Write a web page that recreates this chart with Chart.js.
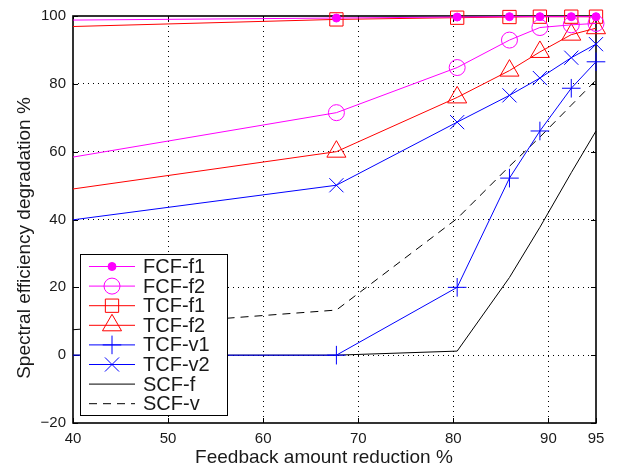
<!DOCTYPE html>
<html>
<head>
<meta charset="utf-8">
<script src="https://cdn.jsdelivr.net/npm/chart.js@4"></script>
<style>
  html, body { margin: 0; padding: 0; background: #fff; }
  #wrap { width: 623px; height: 473px; }
</style>
</head>
<body>
<div id="wrap"><canvas id="chart" width="623" height="473"></canvas></div>
<script>
// DATA
let xValues = [40, 67.7, 80.4, 85.9, 89.1, 92.4, 95];
let xTicks = [40, 50, 60, 70, 80, 90, 95];
let seriesNames = ['FCF-f1', 'FCF-f2', 'TCF-f1', 'TCF-f2', 'TCF-v1', 'TCF-v2', 'SCF-f', 'SCF-v'];
let fcfF1 = [98.8, 99.4, 99.7, 99.8, 99.8, 99.8, 99.8];
let fcfF2 = [58.4, 71.5, 84.8, 92.9, 96.6, 97.4, 97.8];
let tcfF1 = [96.9, 99.0, 99.5, 99.7, 99.8, 99.8, 99.8];
let tcfF2 = [49.0, 60.0, 76.0, 83.9, 89.4, 94.5, 96.4];
let tcfV1 = [0, 0, 20.0, 52.2, 66.1, 78.7, 86.5];
let tcfV2 = [39.9, 50.1, 68.7, 76.6, 81.7, 87.7, 91.7];
let scfF = [0, 0, 1.2, 22.9, 37.7, 53.8, 66.1];
let scfV = [7.5, 13.3, 40.3, 55.7, 64.3, 73.7, 81.1];

let seriesData = [fcfF1, fcfF2, tcfF1, tcfF2, tcfV1, tcfV2, scfF, scfV];
let seriesColor = ['#ff00ff', '#ff00ff', '#ff0000', '#ff0000', '#0000ff', '#0000ff', '#000000', '#000000'];
let seriesMarker = ['circle', 'circle', 'rect', 'triangle', 'cross', 'crossRot', false, false];
let seriesRadius = [4, 8, 9.4, 11, 9.3, 10, 0, 0];
let seriesFill = ['#ff00ff', 'rgba(0,0,0,0)', 'rgba(0,0,0,0)', 'rgba(0,0,0,0)', 'rgba(0,0,0,0)', 'rgba(0,0,0,0)', 'rgba(0,0,0,0)', 'rgba(0,0,0,0)'];
let seriesDash = [[], [], [], [], [], [], [], [8, 6]];

Chart.defaults.font.family = "'Liberation Sans', Arial, Helvetica, sans-serif";
Chart.defaults.color = '#1a1a1a';

let datasets = [];
for (let i = 0; i < seriesNames.length; i++) {
    let pts = [];
    for (let j = 0; j < xValues.length; j++) {
        pts.push({ x: xValues[j], y: seriesData[i][j] });
    }
    let r = seriesRadius[i];
    datasets.push({
        label: seriesNames[i],
        data: pts,
        borderColor: seriesColor[i],
        backgroundColor: seriesFill[i],
        borderWidth: 1,
        borderDash: seriesDash[i],
        pointStyle: seriesMarker[i],
        // first point sits on the left edge, its marker is off-plot in the original
        pointRadius: function (c) { return c.dataIndex === 0 ? 0 : r; },
        pointBorderColor: seriesColor[i],
        pointBackgroundColor: seriesFill[i],
        pointBorderWidth: 1,
        tension: 0,
        clip: false
    });
}

// frame box with inward ticks on all four sides
let framePlugin = {
    id: 'frame',
    beforeDatasetsDraw(chart) {
        let ctx = chart.ctx, a = chart.chartArea;
        let xs = chart.scales.x, ys = chart.scales.y;
        ctx.save();
        ctx.strokeStyle = '#000';
        ctx.lineWidth = 1;
        ctx.beginPath();
        xs.ticks.forEach(function (t) {
            let px = Math.round(xs.getPixelForValue(t.value)) + 0.5;
            ctx.moveTo(px, a.bottom); ctx.lineTo(px, a.bottom - 5);
            ctx.moveTo(px, a.top); ctx.lineTo(px, a.top + 5);
        });
        ys.ticks.forEach(function (t) {
            let py = Math.round(ys.getPixelForValue(t.value)) + 0.5;
            ctx.moveTo(a.left, py); ctx.lineTo(a.left + 5, py);
            ctx.moveTo(a.right, py); ctx.lineTo(a.right - 5, py);
        });
        ctx.stroke();
        ctx.lineWidth = 1.6;
        ctx.strokeRect(a.left, a.top, a.right - a.left, a.bottom - a.top);
        ctx.restore();
    }
};

// legend box inside the plot, lower left
let legendPlugin = {
    id: 'boxLegend',
    afterDraw(chart) {
        let ctx = chart.ctx;
        let bx = 80, by = 254, bw = 147, bh = 161;
        ctx.save();
        ctx.fillStyle = '#fff';
        ctx.fillRect(bx, by, bw, bh);
        ctx.strokeStyle = '#000';
        ctx.lineWidth = 1;
        ctx.strokeRect(bx + 0.5, by + 0.5, bw, bh);
        ctx.font = "20px 'Liberation Sans', Arial, sans-serif";
        ctx.textBaseline = 'middle';
        for (let i = 0; i < seriesNames.length; i++) {
            let ry = 266.5 + i * 19.6;
            ctx.strokeStyle = seriesColor[i];
            ctx.lineWidth = 1;
            ctx.setLineDash(seriesDash[i]);
            ctx.beginPath();
            ctx.moveTo(89, ry); ctx.lineTo(135, ry);
            ctx.stroke();
            ctx.setLineDash([]);
            if (seriesMarker[i]) {
                ctx.fillStyle = seriesFill[i];
                Chart.helpers.drawPoint(ctx, {
                    pointStyle: seriesMarker[i],
                    radius: seriesRadius[i],
                    rotation: 0,
                    borderWidth: 1
                }, 112, ry);
            }
            ctx.fillStyle = '#1a1a1a';
            ctx.fillText(seriesNames[i], 143, ry + 1);
        }
        ctx.restore();
    }
};

let ctx = document.getElementById('chart').getContext('2d');
let chart = new Chart(ctx, {
    type: 'line',
    data: { datasets: datasets },
    plugins: [framePlugin, legendPlugin],
    options: {
        responsive: false,
        animation: false,
        devicePixelRatio: 1,
        layout: { autoPadding: false, padding: { top: 12, right: 27, left: 0, bottom: 0 } },
        plugins: { legend: { display: false }, tooltip: { enabled: false } },
        scales: {
            x: {
                type: 'linear',
                min: 40,
                max: 95,
                afterBuildTicks: function (scale) {
                    scale.ticks = xTicks.map(function (v) { return { value: v }; });
                },
                afterFit: function (scale) { scale.height = 50; },
                grid: {
                    color: function (c) {
                        return (c.tick && (c.tick.value === 40 || c.tick.value === 95)) ? 'rgba(0,0,0,0)' : '#000';
                    },
                    lineWidth: 1,
                    drawTicks: false
                },
                border: { display: false, dash: [1, 4] },
                ticks: { font: { size: 15 }, padding: 7, maxRotation: 0, autoSkip: false },
                title: {
                    display: true,
                    // trailing spaces nudge the centred title a bit left, as in the original
                    text: 'Feedback amount reduction %\u00a0\u00a0\u00a0\u00a0',
                    font: { size: 19 },
                    padding: { top: 0, bottom: 4 }
                }
            },
            y: {
                type: 'linear',
                min: -20,
                max: 100,
                afterFit: function (scale) { scale.width = 73; },
                grid: {
                    color: function (c) {
                        return (c.tick && (c.tick.value === -20 || c.tick.value === 100)) ? 'rgba(0,0,0,0)' : '#000';
                    },
                    lineWidth: 1,
                    drawTicks: false
                },
                border: { display: false, dash: [1, 4] },
                ticks: {
                    stepSize: 20,
                    font: { size: 15 },
                    padding: 7,
                    callback: function (v) { return String(v).replace('-', '\u2212'); }
                },
                title: {
                    display: true,
                    text: 'Spectral efficiency degradation %\u00a0\u00a0\u00a0\u00a0\u00a0\u00a0\u00a0',
                    font: { size: 19 },
                    padding: { top: 13, bottom: 0 }
                }
            }
        }
    }
});
</script>
</body>
</html>
